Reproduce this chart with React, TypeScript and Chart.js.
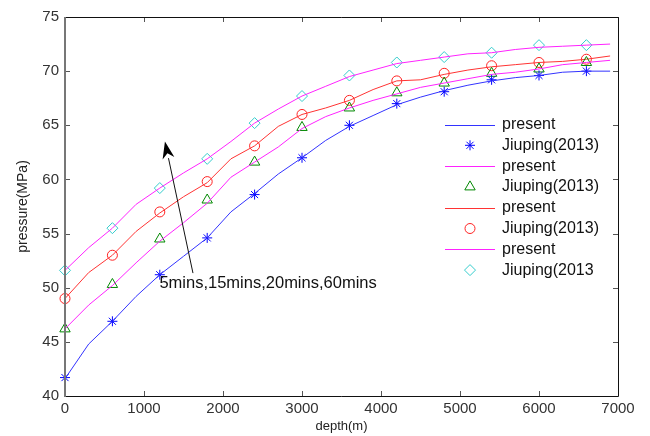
import React, { useEffect, useRef } from 'react';
import { Chart, registerables } from 'chart.js';
import { drawPoint } from 'chart.js/helpers';

Chart.register(...registerables);

// depths (m) for the "present" model curves
const lineDepths = [0, 300, 600, 900, 1200, 1500, 1800, 2100, 2400, 2700, 3000, 3300, 3600, 3900, 4200, 4500, 4800, 5100, 5400, 5700, 6000, 6300, 6600, 6900];
// depths (m) for the Jiuping(2013) markers
const markerDepths = [0, 600, 1200, 1800, 2400, 3000, 3600, 4200, 4800, 5400, 6000, 6600];

// present model, 5 / 15 / 20 / 60 mins (MPa)
const present5 = [41.6, 44.8, 46.9, 49.2, 51.2, 52.9, 54.6, 57.0, 58.7, 60.5, 62.0, 63.6, 64.9, 65.9, 66.9, 67.6, 68.2, 68.7, 69.1, 69.4, 69.6, 69.9, 70.0, 70.0];
const present15 = [46.2, 48.4, 50.2, 52.3, 54.3, 56.0, 57.8, 60.2, 61.6, 63.0, 64.7, 65.8, 66.6, 67.3, 67.9, 68.5, 68.9, 69.3, 69.7, 69.9, 70.2, 70.6, 70.8, 71.0];
const present20 = [49.0, 51.4, 53.0, 55.2, 56.9, 58.4, 59.7, 61.9, 63.1, 64.9, 66.0, 66.6, 67.3, 68.3, 69.1, 69.2, 69.7, 70.1, 70.4, 70.6, 70.8, 70.9, 71.1, 71.4];
const present60 = [51.6, 53.7, 55.5, 57.7, 59.2, 60.6, 61.9, 63.5, 65.2, 66.5, 67.7, 68.6, 69.5, 70.1, 70.7, 71.0, 71.3, 71.6, 71.7, 72.0, 72.2, 72.3, 72.4, 72.5];

// Jiuping(2013) data, 5 / 15 / 20 / 60 mins (MPa)
const jiuping5 = [41.7, 46.9, 51.2, 54.6, 58.6, 62.0, 65.0, 67.0, 68.1, 69.2, 69.6, 70.0];
const jiuping15 = [46.2, 50.3, 54.5, 58.1, 61.6, 64.8, 66.6, 68.0, 68.9, 69.8, 70.2, 70.8];
const jiuping20 = [49.0, 53.0, 57.0, 59.8, 63.1, 66.0, 67.3, 69.1, 69.8, 70.5, 70.8, 71.1];
const jiuping60 = [51.6, 55.5, 59.2, 61.9, 65.2, 67.7, 69.6, 70.8, 71.3, 71.7, 72.4, 72.4];

const xTickValues = [0, 1000, 2000, 3000, 4000, 5000, 6000, 7000];
const yTickValues = [40, 45, 50, 55, 60, 65, 70, 75];

const legendLabels = ['present', 'Jiuping(2013)', 'present', 'Jiuping(2013)', 'present', 'Jiuping(2013)', 'present', 'Jiuping(2013'];

// annotation (data coordinates: depth, pressure)
const annotationText = '5mins,15mins,20mins,60mins';
const arrowFrom = [1620, 51.35];
const arrowTo = [1265, 63.5];
const annotationAt = [1195, 50.4];

const FONT = "'Liberation Sans', Arial, Helvetica, sans-serif";

function pts(xs: number[], ys: number[]) {
  return xs.map((x, i) => ({ x, y: ys[i] }));
}

const framePlugin = {
  id: 'matlabFrame',
  afterDraw(chart: any) {
    const { ctx, chartArea: a, scales } = chart;
    const xs = scales.x;
    const ys = scales.y;
    ctx.save();
    // inward ticks
    const tl = 5;
    ctx.lineWidth = 1;
    ctx.strokeStyle = '#555';
    ctx.beginPath();
    xTickValues.forEach((v) => {
      const px = Math.round(xs.getPixelForValue(v)) + 0.5;
      ctx.moveTo(px, a.bottom);
      ctx.lineTo(px, a.bottom - tl);
      ctx.moveTo(px, a.top);
      ctx.lineTo(px, a.top + tl);
    });
    yTickValues.forEach((v) => {
      const py = Math.round(ys.getPixelForValue(v)) + 0.5;
      ctx.moveTo(a.left, py);
      ctx.lineTo(a.left + tl, py);
      ctx.moveTo(a.right, py);
      ctx.lineTo(a.right - tl, py);
    });
    ctx.stroke();
    // box
    ctx.strokeStyle = '#111';
    ctx.lineWidth = 1;
    ctx.beginPath();
    ctx.moveTo(a.left, a.top + 0.5);
    ctx.lineTo(a.right + 0.5, a.top + 0.5);
    ctx.lineTo(a.right + 0.5, a.bottom + 0.5);
    ctx.lineTo(a.left, a.bottom + 0.5);
    ctx.stroke();
    ctx.strokeStyle = '#777';
    ctx.lineWidth = 2;
    ctx.beginPath();
    ctx.moveTo(a.left, a.top);
    ctx.lineTo(a.left, a.bottom + 1);
    ctx.stroke();

    // arrow + annotation
    const x0 = xs.getPixelForValue(arrowFrom[0]);
    const y0 = ys.getPixelForValue(arrowFrom[1]);
    const x1 = xs.getPixelForValue(arrowTo[0]);
    const y1 = ys.getPixelForValue(arrowTo[1]);
    const ang = Math.atan2(y1 - y0, x1 - x0);
    const hl = 17;
    const hw = 6;
    const bx = x1 - hl * Math.cos(ang);
    const by = y1 - hl * Math.sin(ang);
    ctx.strokeStyle = '#111';
    ctx.lineWidth = 1;
    ctx.beginPath();
    ctx.moveTo(x0, y0);
    ctx.lineTo(bx, by);
    ctx.stroke();
    ctx.fillStyle = '#000';
    ctx.beginPath();
    ctx.moveTo(x1, y1);
    ctx.lineTo(bx + hw * Math.sin(ang), by - hw * Math.cos(ang));
    ctx.lineTo(x1 - hl * 0.7 * Math.cos(ang), y1 - hl * 0.7 * Math.sin(ang));
    ctx.lineTo(bx - hw * Math.sin(ang), by + hw * Math.cos(ang));
    ctx.closePath();
    ctx.fill();

    ctx.fillStyle = '#111';
    ctx.font = `16.5px ${FONT}`;
    ctx.textAlign = 'left';
    ctx.textBaseline = 'middle';
    ctx.fillText(annotationText, xs.getPixelForValue(annotationAt[0]), ys.getPixelForValue(annotationAt[1]));

    // legend (no box, MATLAB style)
    const lx0 = 445;
    const lx1 = 495;
    const tx = 502;
    const ly0 = 124.5;
    const dy = 20.8;
    legendLabels.forEach((label, i) => {
      const ds = chart.data.datasets[i];
      const y = ly0 + i * dy;
      if (ds.showLine === false) {
        ctx.strokeStyle = ds.borderColor;
        ctx.lineWidth = ds.pointBorderWidth;
        ctx.fillStyle = 'rgba(0,0,0,0)';
        drawPoint(ctx, { pointStyle: ds.pointStyle, radius: ds.pointRadius, borderWidth: ds.pointBorderWidth, rotation: 0 }, (lx0 + lx1) / 2, y);
      } else {
        ctx.strokeStyle = ds.borderColor;
        ctx.lineWidth = ds.borderWidth;
        ctx.beginPath();
        ctx.moveTo(lx0, Math.round(y) + 0.5);
        ctx.lineTo(lx1, Math.round(y) + 0.5);
        ctx.stroke();
      }
      ctx.fillStyle = '#111';
      ctx.font = `16px ${FONT}`;
      ctx.textAlign = 'left';
      ctx.textBaseline = 'middle';
      ctx.fillText(label, tx, y);
    });
    ctx.restore();
  },
};

function lineDs(label: string, ys: number[], color: string) {
  return {
    label,
    data: pts(lineDepths, ys),
    borderColor: color,
    backgroundColor: color,
    borderWidth: 1,
    pointRadius: 0,
    tension: 0,
    fill: false,
  };
}

function markerDs(label: string, ys: number[], color: string, style: string, r: number) {
  return {
    label,
    data: pts(markerDepths, ys),
    showLine: false,
    borderColor: color,
    backgroundColor: 'rgba(0,0,0,0)',
    pointStyle: style,
    pointRadius: r,
    pointBorderWidth: 1,
    pointBorderColor: color,
    pointBackgroundColor: 'rgba(0,0,0,0)',
    clip: false,
  };
}

export default function App() {
  const ref = useRef<HTMLCanvasElement | null>(null);
  useEffect(() => {
    if (!ref.current) return;
    const chart = new Chart(ref.current, {
      type: 'line',
      data: {
        datasets: [
          lineDs('present', present5, '#3333ff'),
          markerDs('Jiuping(2013)', jiuping5, '#0000ff', 'star', 5),
          lineDs('present', present15, '#ff22ff'),
          markerDs('Jiuping(2013)', jiuping15, '#008800', 'triangle', 6),
          lineDs('present', present20, '#ff3333'),
          markerDs('Jiuping(2013)', jiuping20, '#ff2222', 'circle', 5),
          lineDs('present', present60, '#ff22ff'),
          markerDs('Jiuping(2013', jiuping60, '#33cccc', 'rectRot', 5.5),
        ] as any,
      },
      options: {
        animation: false,
        responsive: true,
        maintainAspectRatio: false,
        layout: { padding: { left: 0, top: 17, right: 32, bottom: 0 } },
        plugins: { legend: { display: false }, tooltip: { enabled: false } },
        scales: {
          x: {
            type: 'linear',
            min: 0,
            max: 7000,
            afterBuildTicks: (s: any) => {
              s.ticks = xTickValues.map((v) => ({ value: v }));
            },
            afterFit: (s: any) => {
              s.height = 40;
              s.paddingLeft = 0;
              s.paddingRight = 0;
            },
            grid: { display: false, drawTicks: false },
            border: { display: false },
            ticks: { font: { family: FONT, size: 15 }, color: '#333', padding: 4, maxRotation: 0, autoSkip: false, callback: (v: any) => String(v) },
            title: { display: true, text: 'depth(m)', font: { family: FONT, size: 13 }, color: '#222', padding: { top: 0, bottom: 2 } },
          },
          y: {
            type: 'linear',
            min: 40,
            max: 75,
            afterBuildTicks: (s: any) => {
              s.ticks = yTickValues.map((v) => ({ value: v }));
            },
            afterFit: (s: any) => {
              s.width = 65;
              s.paddingTop = 0;
              s.paddingBottom = 0;
            },
            grid: { display: false, drawTicks: false },
            border: { display: false },
            ticks: { font: { family: FONT, size: 15 }, color: '#333', padding: 6, autoSkip: false, callback: (v: any) => String(v) },
            title: { display: true, text: 'pressure(MPa)', font: { family: FONT, size: 14 }, color: '#222', padding: { top: 15, bottom: 0 } },
          },
        },
      },
      plugins: [framePlugin],
    });
    return () => chart.destroy();
  }, []);
  return (
    <div style={{ position: 'absolute', left: 0, top: 0, width: 650, height: 436, background: '#fff' }}>
      <canvas ref={ref} />
    </div>
  );
}
